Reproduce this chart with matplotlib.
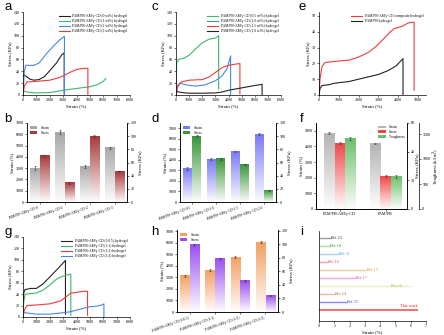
import numpy as np
import matplotlib
matplotlib.use('Agg')
from matplotlib import pyplot as plt
from matplotlib.colors import LinearSegmentedColormap
from matplotlib.patches import Patch

plt.rcParams['font.family'] = ['Liberation Serif', 'DejaVu Sans']
plt.rcParams['axes.linewidth'] = 0.5
plt.rcParams['xtick.major.width'] = 0.4
plt.rcParams['ytick.major.width'] = 0.4
plt.rcParams['xtick.major.size'] = 1.5
plt.rcParams['ytick.major.size'] = 1.5
plt.rcParams['xtick.labelsize'] = 3
plt.rcParams['ytick.labelsize'] = 3
plt.rcParams['xtick.major.pad'] = 1
plt.rcParams['ytick.major.pad'] = 1

# ---- panel a: stress-strain curves
a_names = ['PAM/PB-AM/γ-CD (0 wt%) hydrogel', 'PAM/PB-AM/γ-CD (1 wt%) hydrogel',
           'PAM/PB-AM/γ-CD (2 wt%) hydrogel', 'PAM/PB-AM/γ-CD (3 wt%) hydrogel']
a_colors = ['#222222', '#3cb868', '#4a86e8', '#f03a3a']
a_black_x = [0, 80, 200, 500, 800, 1200, 1600, 2000, 2500, 2900, 3080, 3080]
a_black_y = [30, 34, 32, 27, 25, 26, 31, 41, 54, 68, 71, 2]
a_green_x = [0, 300, 1000, 2000, 3000, 4000, 5000, 5500, 6000, 6200]
a_green_y = [7, 5, 3.5, 4, 8, 11, 14, 17, 23, 28]
a_blue_x = [0, 100, 200, 800, 1200, 1800, 2300, 2800, 3100, 3100]
a_blue_y = [0, 40, 50, 50, 54, 71, 83, 94, 99, 0]
a_red_x = [0, 100, 300, 1000, 2000, 2800, 3500, 4000, 4500, 4850, 4850]
a_red_y = [0, 15, 22, 23, 25, 30, 38, 43, 45, 45, 1]

# ---- panel c
c_names = ['PAM/PB-AM/γ-CD (0.5 wt%) hydrogel', 'PAM/PB-AM/γ-CD (1.0 wt%) hydrogel',
           'PAM/PB-AM/γ-CD (1.5 wt%) hydrogel', 'PAM/PB-AM/γ-CD (2.0 wt%) hydrogel']
c_colors = ['#3cb868', '#4a86e8', '#f03a3a', '#222222']
c_green_x = [0, 50, 200, 600, 1000, 1500, 2000, 2500, 3000, 3250, 3250]
c_green_y = [0, 55, 60, 62, 67, 78, 88, 94, 96, 100, 10]
c_blue_x = [0, 100, 300, 800, 1500, 2200, 3000, 3500, 3900, 4160, 4160]
c_blue_y = [0, 12, 20, 17, 15, 17, 24, 32, 45, 66, 0]
c_red_x = [0, 100, 400, 1000, 2000, 2500, 3000, 3500, 4000, 4500, 4870, 4870]
c_red_y = [0, 15, 22, 25, 26, 30, 38, 46, 50, 52, 53, 2]
c_black_x = [0, 500, 1000, 2000, 3000, 3500, 4000, 5000, 6000, 6560, 6560]
c_black_y = [6, 4, 3, 3, 3.5, 5, 8, 12, 16, 18, 0]

# ---- panel e
e_names = ['PAM/PB-AM/γ-CD composite hydrogel', 'PAM/PB hydrogel']
e_red_x = [0, 50, 150, 300, 600, 1000, 1500, 2000, 2500, 2900, 3300, 3600, 3800,
           4200, 4500, 4650, 4800, 4800]
e_red_y = [0, 10, 18, 20.5, 21, 21.5, 22, 24, 27, 31, 36, 40, 42, 43.5, 45.5, 46, 46, 3]
e_black_x = [0, 50, 150, 500, 800, 1500, 2000, 2500, 3000, 3500, 3900, 4240, 4240]
e_black_y = [0, 4, 6, 6.5, 7.5, 8.5, 10, 11.5, 13, 15.5, 18.5, 23, 0]

# ---- panel g
g_names = ['PAM/PB-AM/γ-CD (1:0.5) hydrogel', 'PAM/PB-AM/γ-CD (1:1) hydrogel',
           'PAM/PB-AM/γ-CD (1:2) hydrogel', 'PAM/PB-AM/γ-CD (1:3) hydrogel']
g_colors = ['#222222', '#3cb868', '#f03a3a', '#4a86e8']
g_black_x = [0, 50, 150, 600, 1000, 1500, 2000, 2500, 2900, 3175, 3175]
g_black_y = [0, 42, 48, 50, 50, 58, 70, 82, 92, 99, 5]
g_green_x = [0, 50, 150, 600, 1000, 1500, 2000, 2500, 2800, 3200, 3575, 3575]
g_green_y = [0, 25, 40, 41, 42, 47, 56, 66, 70, 73, 75, 3]
g_red_x = [0, 100, 300, 1000, 2000, 2800, 3200, 3600, 4000, 4500, 4825, 4825]
g_red_y = [0, 12, 20, 21, 23, 28, 35, 42, 43, 45, 45, 3]
g_blue_x = [0, 300, 1000, 2000, 3000, 3500, 4000, 4500, 5000, 5500, 5900, 6050, 6050]
g_blue_y = [8, 7, 5, 5, 7.5, 9, 12, 15, 18, 19, 21, 23, 0]

# ---- bar panels
b_labels = ['PAM/PB-AM/γ-CD-0', 'PAM/PB-AM/γ-CD-1', 'PAM/PB-AM/γ-CD-2', 'PAM/PB-AM/γ-CD-3']
b_strain = [3000, 6200, 3150, 4800]
b_strain_err = [150, 150, 150, 60]
b_stress = [70, 29, 100, 46]
b_stress_err = [2, 2, 1.5, 1]

d_labels = ['PAM/PB-AM/γ-CD-0.5', 'PAM/PB-AM/γ-CD-1.0', 'PAM/PB-AM/γ-CD-1.5', 'PAM/PB-AM/γ-CD-2.0']
d_strain = [3150, 4050, 4800, 6450]
d_strain_err = [150, 100, 80, 60]
d_stress = [100, 66, 57, 18]
d_stress_err = [1.5, 1.5, 1.2, 0.8]

f_labels = ['PAM/PB-AM/γ-CD', 'PAM/PB']
f_strain = [4850, 4200]
f_strain_err = [60, 40]
f_stress = [46, 23]
f_stress_err = [0.6, 0.5]
f_tough = [1420, 650]
f_tough_err = [30, 30]

h_labels = ['PAM/PB-AM/γ-CD (1:0.5)', 'PAM/PB-AM/γ-CD (1:1)', 'PAM/PB-AM/γ-CD (1:2)', 'PAM/PB-AM/γ-CD (1:3)']
h_strain = [3130, 3620, 4760, 6030]
h_strain_err = [100, 100, 60, 80]
h_stress = [99, 79, 46, 24]
h_stress_err = [1.2, 1.2, 1, 1]

# ---- panel i: comparison with references
i_labels = ['Ref.23', 'Ref.18', 'Ref.31', 'Ref.16', 'Ref.13', 'Ref.17', 'Ref.26', 'Ref.24', 'Ref.33', 'This work']
i_values = [0.8, 0.7, 1.3, 0.6, 3.1, 2.4, 6.0, 1.05, 1.85, 6.5]
i_lcolors = ['#999999', '#a6dca6', '#a9d2f2', '#f5a3a3', '#f2cba2', '#f3a6f0', '#e6f2c6',
             '#dbbdb4', '#8a8af2', '#f26464']
i_tcolors = ['#333333', '#2e9a2e', '#5aa0e0', '#e05050', '#e08a30', '#d050d0', '#a0c060',
             '#a07050', '#5050d0', '#e82020']

fig = plt.figure(figsize=(4.44, 3.35), dpi=100)


def line_panel(rect, curves, colors, names, ylim, yticks, xlim, xticks, ylabel):
    ax = fig.add_axes(rect)
    for (x, y), c, n in zip(curves, colors, names):
        ax.plot(x, y, color=c, lw=0.8, label=n)
    ax.set_xlim(xlim)
    ax.set_ylim(ylim)
    ax.set_xticks(xticks)
    ax.set_yticks(yticks)
    ax.spines['top'].set_visible(False)
    ax.spines['right'].set_visible(False)
    ax.set_xlabel('Strain (%)', fontsize=3.5, labelpad=1)
    ax.set_ylabel(ylabel, fontsize=3.5, labelpad=1)
    ax.legend(loc='upper right', fontsize=2.6, frameon=False, handlelength=3,
              labelspacing=0.3, borderaxespad=0.2)
    return ax


def grad_bar(ax, x, h, w, color):
    cmap = LinearSegmentedColormap.from_list('g', ['#ffffff', color])
    grad = np.linspace(0.02, 1, 200).reshape(-1, 1)
    ax.imshow(grad, extent=(x - w / 2, x + w / 2, 0, h), origin='lower', cmap=cmap,
              vmin=0, vmax=1, aspect='auto', zorder=2)


def bar_panel(rect, labels, left, left_err, right, right_err, colors, names,
              lylim, lyticks, rylim, ryticks, offs=0.19, w=0.37, xlim=(-0.5, 3.5)):
    ax = fig.add_axes(rect)
    ax2 = ax.twinx()
    xs = np.arange(len(labels))
    for i in xs:
        grad_bar(ax, i - offs, left[i], w, colors[0])
        grad_bar(ax2, i + offs, right[i], w, colors[1])
    ax.errorbar(xs - offs, left, yerr=left_err, fmt='none', ecolor='#333333',
                elinewidth=0.4, capsize=0.8, capthick=0.4, zorder=3)
    ax2.errorbar(xs + offs, right, yerr=right_err, fmt='none', ecolor='#333333',
                 elinewidth=0.4, capsize=0.8, capthick=0.4, zorder=3)
    for a in (ax, ax2):
        a.set_xlim(xlim)
        a.spines['top'].set_visible(False)
    ax.set_ylim(lylim)
    ax.set_yticks(lyticks)
    ax2.set_ylim(rylim)
    ax2.set_yticks(ryticks)
    ax.set_xticks(xs)
    ax.set_xticklabels(labels, rotation=20, ha='right', fontsize=2.6)
    ax.set_ylabel('Strain (%)', fontsize=3.5, labelpad=1)
    ax2.set_ylabel('Stress (KPa)', fontsize=3.5, labelpad=1)
    handles = [Patch(facecolor=colors[0], label=names[0]), Patch(facecolor=colors[1], label=names[1])]
    ax.legend(handles=handles, loc='upper left', fontsize=2.6, frameon=False,
              handlelength=2.2, handleheight=0.8, labelspacing=0.3, borderaxespad=0.3)
    return ax, ax2


W, H = 444.0, 335.0


def rect(x0, y0, x1, y1):
    return [x0 / W, 1 - y1 / H, (x1 - x0) / W, (y1 - y0) / H]


# a
line_panel(rect(23, 12, 130, 95),
           [(a_black_x, a_black_y), (a_green_x, a_green_y), (a_blue_x, a_blue_y), (a_red_x, a_red_y)],
           a_colors, a_names, (0, 140), range(0, 141, 20), (0, 8000), range(0, 8001, 1000),
           'Stress (KPa)')
# c
line_panel(rect(176, 12, 281, 95),
           [(c_green_x, c_green_y), (c_blue_x, c_blue_y), (c_red_x, c_red_y), (c_black_x, c_black_y)],
           c_colors, c_names, (0, 140), range(0, 141, 20), (0, 8000), range(0, 8001, 1000),
           'Stress (KPa)')
# e
line_panel(rect(319, 12, 426, 95), [(e_red_x, e_red_y), (e_black_x, e_black_y)],
           ['#f03a3a', '#222222'], e_names, (0, 52.5), range(0, 51, 10), (0, 5400),
           range(0, 5001, 1000), 'Stress (KPa)')
# g
line_panel(rect(23, 237, 130, 317),
           [(g_black_x, g_black_y), (g_green_x, g_green_y), (g_red_x, g_red_y), (g_blue_x, g_blue_y)],
           g_colors, g_names, (0, 140), range(0, 141, 20), (0, 8000), range(0, 8001, 1000),
           'Stress (KPa)')

# b
bar_panel(rect(27, 123, 127, 202), b_labels, b_strain, b_strain_err, b_stress, b_stress_err,
          ['#a8a8a8', '#a83a3a'], ['Strain', 'Stress'],
          (0, 7000), range(0, 7001, 1000), (0, 120), range(0, 121, 20))
# d
bar_panel(rect(180, 123, 276, 202), d_labels, d_strain, d_strain_err, d_stress, d_stress_err,
          ['#7a7af5', '#3a963a'], ['Strain', 'Stress'],
          (0, 7500), range(0, 7001, 1000), (0, 120), range(0, 121, 20))
# h
bar_panel(rect(177, 230, 278, 312), h_labels, h_strain, h_strain_err, h_stress, h_stress_err,
          ['#f3a062', '#9b4ff0'], ['Strain', 'Stress'],
          (0, 7100), range(0, 7001, 1000), (0, 121), range(0, 121, 20))

# f: three axes
axf = fig.add_axes(rect(316, 123, 407, 209))
axf2 = axf.twinx()
axf3 = axf.twinx()
axf3.spines['right'].set_position(('axes', 1.13))
xs = np.arange(len(f_labels))
fw = 0.23
for i in xs:
    grad_bar(axf, i - fw, f_strain[i], fw, '#b4b4b4')
    grad_bar(axf2, i, f_stress[i], fw, '#f04848')
    grad_bar(axf3, i + fw, f_tough[i], fw, '#6cc06c')
for a, xx, v, e in ((axf, xs - fw, f_strain, f_strain_err), (axf2, xs, f_stress, f_stress_err),
                    (axf3, xs + fw, f_tough, f_tough_err)):
    a.errorbar(xx, v, yerr=e, fmt='none', ecolor='#333333', elinewidth=0.4,
               capsize=0.8, capthick=0.4, zorder=3)
    a.set_xlim(-0.52, 1.47)
    a.spines['top'].set_visible(False)
axf.set_ylim(0, 5500)
axf.set_yticks(range(0, 5001, 1000))
axf2.set_ylim(0, 60)
axf2.set_yticks(range(0, 61, 20))
axf3.set_ylim(0, 1720)
axf3.set_yticks(range(0, 1501, 500))
axf.set_xticks(xs)
axf.set_xticklabels(f_labels, fontsize=3)
axf.set_ylabel('Strain (%)', fontsize=3.5, labelpad=1)
axf2.set_ylabel('Stress (KPa)', fontsize=3.5, labelpad=0)
axf3.set_ylabel('Toughness (kJ/m$^3$)', fontsize=3.3, labelpad=0.5)
f_handles = [Patch(facecolor='#b4b4b4', label='Strain'), Patch(facecolor='#f04848', label='Stress'),
             Patch(facecolor='#6cc06c', label='Toughness')]
axf.legend(handles=f_handles, loc='upper right', fontsize=2.6, frameon=False,
           handlelength=2.2, handleheight=0.8, labelspacing=0.2, borderaxespad=0.2)

# i
axi = fig.add_axes(rect(319, 231, 426, 321))
ys = np.arange(len(i_values))[::-1] + 1
for y, v, lc, tc, lab in zip(ys, i_values, i_lcolors, i_tcolors, i_labels):
    axi.plot([0, v], [y, y], color=lc, lw=1.0 if lab != 'This work' else 1.3, solid_capstyle='butt')
    if lab == 'This work':
        axi.text(v - 0.05, y + 0.45, lab, color=tc, fontsize=3.2, ha='right', va='center')
    elif v > 5:
        axi.text(v - 1.3, y, lab, color=tc, fontsize=3.2, ha='left', va='center')
    else:
        axi.text(v, y, lab, color=tc, fontsize=3.2, ha='left', va='center')
axi.set_xlim(0, 7)
axi.set_xticks(range(0, 8))
axi.set_ylim(-0.39, 10.92)
axi.set_yticks([])
axi.spines['top'].set_visible(False)
axi.spines['right'].set_visible(False)
axi.set_xlabel('Strain (%)', fontsize=3.5, labelpad=1)

# panel letters
letters = ['a', 'c', 'e', 'b', 'd', 'f', 'g', 'h', 'i']
letter_pos = [(4, 1), (151, 1), (298, 1), (4, 113), (151, 113), (300, 113), (4, 226), (151, 226), (300, 226)]
for L, (px, py) in zip(letters, letter_pos):
    fig.text(px / W, 1 - py / H, L, fontsize=9.5, family='Liberation Sans', va='top', ha='left')

fig.savefig('out.png', dpi=100)
